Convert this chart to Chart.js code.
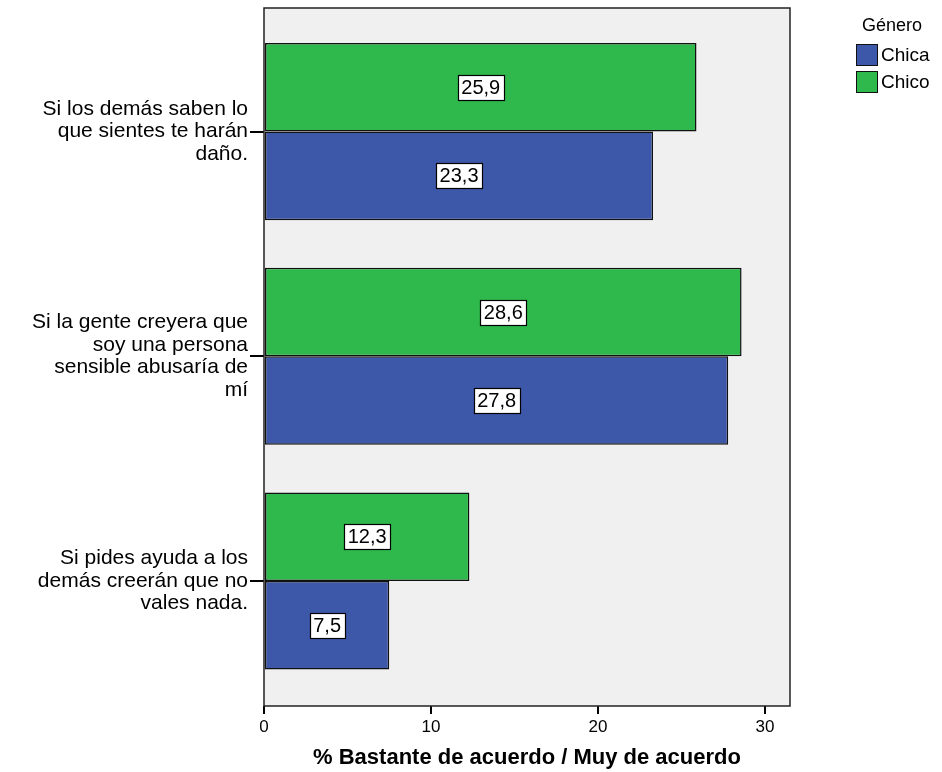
<!DOCTYPE html>
<html lang="es">
<head>
<meta charset="UTF-8">
<title>Bastante de acuerdo / Muy de acuerdo</title>
<script src="https://cdn.jsdelivr.net/npm/chart.js@4.4.1/dist/chart.umd.min.js"></script>
<style>
  body { margin: 0; background: #fff; font-family: "Liberation Sans", Arial, sans-serif; }
  #wrap { position: relative; width: 942px; height: 772px; }
  #legend { position: absolute; left: 856px; top: 15px; color: #000; }
  #legend .ttl { font-size: 18px; height: 26px; margin-left: 6px; }
  #legend .row { display: flex; align-items: center; height: 27px; font-size: 19px; }
  #legend .sw { width: 20px; height: 20px; border: 1.5px solid #111; margin-right: 3px; }
</style>
</head>
<body>
<div id="wrap">
  <canvas id="chart" width="942" height="772"></canvas>
  <div id="legend"></div>
</div>
<script>
// data
var categories = [
  ['Si los demás saben lo', 'que sientes te harán', 'daño.'],
  ['Si la gente creyera que', 'soy una persona', 'sensible abusaría de', 'mí'],
  ['Si pides ayuda a los', 'demás creerán que no', 'vales nada.']
];
var chicoValues = [25.9, 28.6, 12.3];
var chicaValues = [23.3, 27.8, 7.5];
var xTicks = [0, 10, 20, 30];
var xMax = 31.5;
var axisTitle = '% Bastante de acuerdo / Muy de acuerdo';
var legendTitle = 'Género';

var blue = '#3d57a9';
var green = '#2fb84b';
var fontFam = '"Liberation Sans", Arial, sans-serif';

// the category band: a bit more space above/below the outer groups than half a step
var catStart = -0.55;
var catRange = 3.106;

// grey plot area with black frame
var plotFrame = {
  id: 'plotFrame',
  beforeDatasetsDraw: function(chart) {
    var a = chart.chartArea, ctx = chart.ctx;
    ctx.save();
    ctx.fillStyle = '#f0f0f0';
    ctx.fillRect(a.left, a.top, a.right - a.left, a.bottom - a.top);
    ctx.restore();
  },
  afterDatasetsDraw: function(chart) {
    var a = chart.chartArea, ctx = chart.ctx;
    ctx.save();
    ctx.strokeStyle = '#222';
    ctx.lineWidth = 1.5;
    ctx.strokeRect(a.left, a.top, a.right - a.left, a.bottom - a.top);
    ctx.restore();
  }
};

// white boxed value labels in the middle of each bar
var valueBoxes = {
  id: 'valueBoxes',
  afterDraw: function(chart) {
    var ctx = chart.ctx;
    ctx.save();
    ctx.font = '20px ' + fontFam;
    ctx.textAlign = 'center';
    ctx.textBaseline = 'middle';
    chart.data.datasets.forEach(function(ds, di) {
      chart.getDatasetMeta(di).data.forEach(function(bar, i) {
        var txt = ds.data[i].toFixed(1).replace('.', ',');
        var cx = (bar.x + bar.base) / 2, cy = bar.y;
        var w = Math.round(ctx.measureText(txt).width + 7), h = 25;
        var x0 = Math.round(cx - w / 2) + 0.5, y0 = Math.round(cy - h / 2) + 0.5;
        ctx.fillStyle = '#fff';
        ctx.fillRect(x0, y0, w, h);
        ctx.strokeStyle = '#000';
        ctx.lineWidth = 1.2;
        ctx.strokeRect(x0, y0, w, h);
        ctx.fillStyle = '#000';
        ctx.fillText(txt, cx, cy + 1);
      });
    });
    ctx.restore();
  }
};

var config = {
  type: 'bar',
  data: {
    labels: categories,
    datasets: [
      { label: 'Chico', data: chicoValues, backgroundColor: green },
      { label: 'Chica', data: chicaValues, backgroundColor: blue }
    ]
  },
  options: {
    indexAxis: 'y',
    responsive: false,
    animation: false,
    layout: { padding: { left: 0, right: 152, top: 8, bottom: 0 } },
    datasets: {
      bar: {
        barPercentage: 1,
        categoryPercentage: 0.788,
        borderColor: '#111',
        borderWidth: 1.5,
        borderSkipped: false
      }
    },
    scales: {
      x: {
        min: 0,
        max: xMax,
        afterBuildTicks: function(scale) {
          scale.ticks = xTicks.map(function(v) { return { value: v }; });
        },
        afterFit: function(scale) {
          scale.height = 66;
          scale.paddingLeft = 0;
          scale.paddingRight = 0;
        },
        grid: { drawOnChartArea: false, drawTicks: true, tickLength: 8, color: '#000', lineWidth: 2 },
        border: { display: false },
        ticks: { color: '#000', padding: 3, font: { family: fontFam, size: 17 } },
        title: {
          display: true,
          text: axisTitle,
          color: '#000',
          padding: { top: 0, bottom: 1 },
          font: { family: fontFam, size: 22, weight: 'bold' }
        }
      },
      y: {
        afterFit: function(scale) {
          scale.width = 264;
          scale.paddingTop = 0;
          scale.paddingBottom = 0;
        },
        afterUpdate: function(scale) {
          if (scale._bandPatched) return;
          var orig = scale.configure;
          scale.configure = function() {
            orig.call(this);
            this._startValue = catStart;
            this._valueRange = catRange;
          };
          scale._bandPatched = true;
        },
        grid: { offset: false, drawOnChartArea: false, drawTicks: true, tickLength: 14, color: '#000', lineWidth: 2 },
        border: { display: false },
        ticks: {
          color: '#000',
          padding: 2,
          font: { family: fontFam, size: 21, lineHeight: 1.07 }
        }
      }
    },
    plugins: {
      legend: { display: false },
      tooltip: { enabled: false }
    }
  },
  plugins: [plotFrame, valueBoxes]
};

window.onload = function() {
  var ctx = document.getElementById('chart').getContext('2d');
  window.myChart = new Chart(ctx, config);

  // legend: Chica first, as in the original
  var leg = document.getElementById('legend');
  var html = '<div class="ttl">' + legendTitle + '</div>';
  [config.data.datasets[1], config.data.datasets[0]].forEach(function(ds) {
    html += '<div class="row"><div class="sw" style="background:' + ds.backgroundColor + '"></div>' + ds.label + '</div>';
  });
  leg.innerHTML = html;
};
</script>
</body>
</html>
